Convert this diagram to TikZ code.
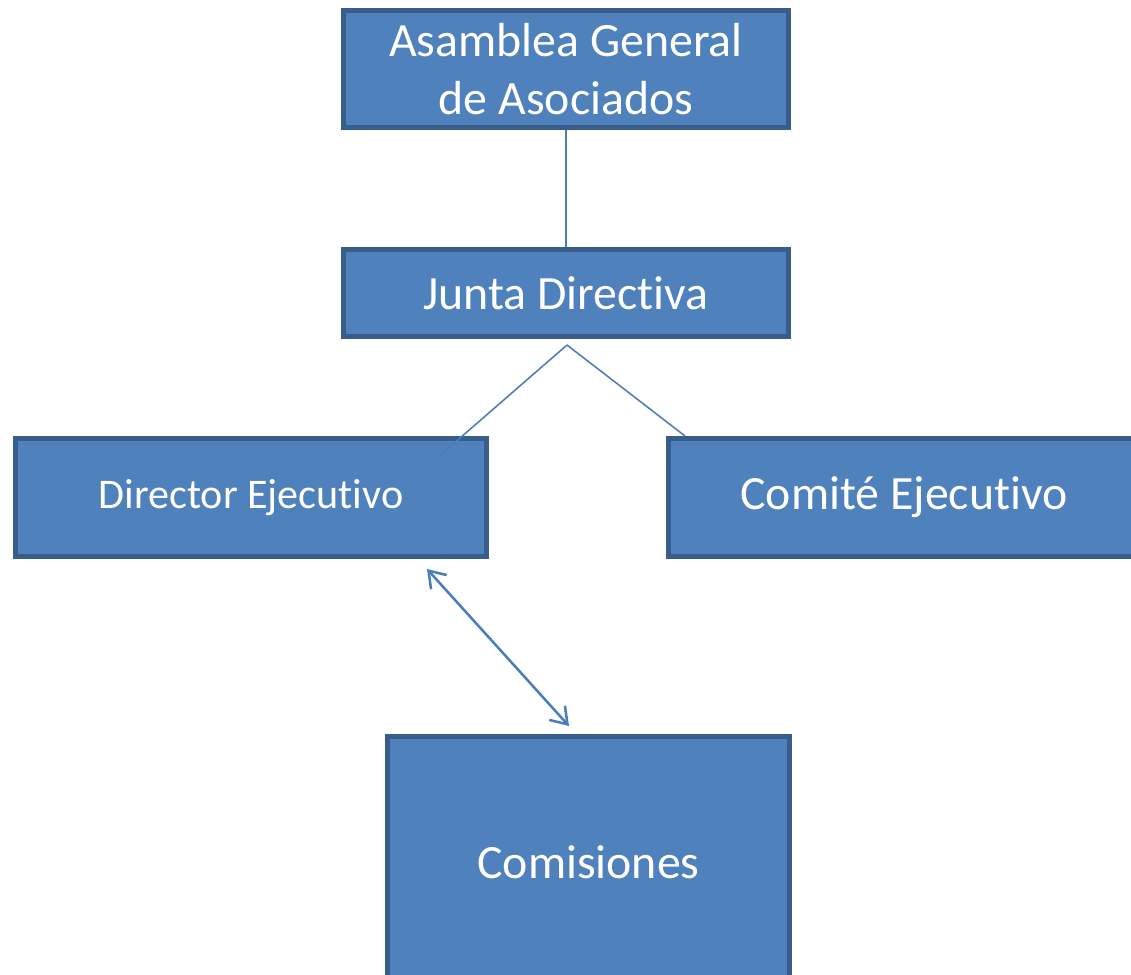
\documentclass[tikz,border=0pt]{standalone}
\usepackage{fontspec}
\setmainfont{Carlito}[Ligatures=NoCommon]
\usetikzlibrary{arrows.meta}
\definecolor{boxfill}{HTML}{4F81BD}
\definecolor{boxline}{HTML}{385D8A}
\definecolor{linkcol}{HTML}{4A7EBB}

\begin{document}
\begin{tikzpicture}[scale=0.25]
\tikzstyle{every node}+=[inner sep=0pt]
\tikzstyle{orgbox}=[draw=boxline, fill=boxfill, line width=3.5pt, text=white, align=center, font=\fontsize{34}{41}\selectfont]
\tikzstyle{link}=[draw=linkcol, line width=1.1pt]
\useasboundingbox (0,0) rectangle (113.1,-97.4);
\node [orgbox, minimum width=11.125cm, minimum height=2.925cm] (asamblea) at (56.6,-6.9) {Asamblea General\\de Asociados};
\node [orgbox, minimum width=11.125cm, minimum height=2.175cm] (junta) at (56.6,-29.3) {Junta Directiva};
\node [orgbox, minimum width=11.775cm, minimum height=2.95cm, font=\fontsize{30}{36}\selectfont] (director) at (25.1,-49.75) {Director Ejecutivo};
\node [orgbox, minimum width=11.775cm, minimum height=2.95cm] (comite) at (90.4,-49.75) {Comité Ejecutivo};
\node [orgbox, minimum width=10.05cm, minimum height=6.275cm] (comisiones) at (58.85,-86.2) {Comisiones};
\coordinate (split) at (56.7,-34.5);
\coordinate (dirend) at (43.7,-45.8);
\coordinate (comend) at (68.5,-43.6);
\coordinate (arrtop) at (42.7,-56.9);
\coordinate (arrbot) at (56.9,-72.6);
\draw [link] (asamblea) -- (junta);
\draw [link] (split) -- (dirend);
\draw [link] (split) -- (comend);
\draw [link, line width=1.8pt, {Straight Barb[length=11pt,width=15pt]}-{Straight Barb[length=11pt,width=15pt]}] (arrtop) -- (arrbot);
\end{tikzpicture}
\end{document}
